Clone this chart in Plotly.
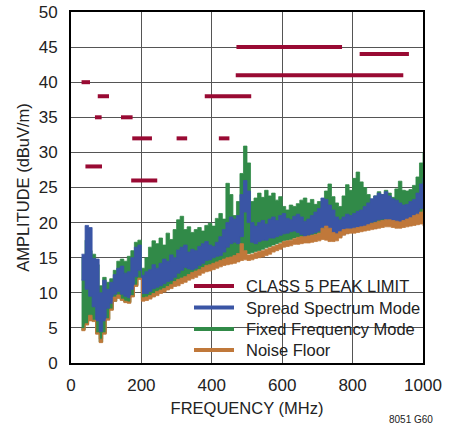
import plotly.graph_objects as go

# ---------------- data ----------------
freq = [30, 40, 50, 60, 70, 80, 90, 100, 110, 120, 130, 140, 150, 160, 170, 180, 190, 200,
        210, 220, 230, 240, 250, 260, 270, 280, 290, 300, 310, 320, 330, 340, 350, 360, 370,
        380, 390, 400, 410, 420, 430, 440, 450, 460, 470, 480, 490, 500, 510, 520, 530, 540,
        550, 560, 570, 580, 590, 600, 610, 620, 630, 640, 650, 660, 670, 680, 690, 700, 710,
        720, 730, 740, 750, 760, 770, 780, 790, 800, 810, 820, 830, 840, 850, 860, 870, 880,
        890, 900, 910, 920, 930, 940, 950, 960, 970, 980, 990, 1000]

fixed_hi = [15.0, 17.5, 16.0, 15.5, 14.0, 11.0, 12.2, 11.5, 12.0, 13.2, 14.5, 14.8, 14.5, 15.2, 16.0, 17.2, 17.5, 13.5,
            15.0, 16.5, 17.4, 17.0, 17.8, 16.8, 18.5, 17.6, 19.0, 20.4, 20.9, 19.0, 19.4, 18.6, 19.0, 19.3, 18.8,
            19.6, 19.9, 19.5, 20.6, 21.3, 20.5, 25.6, 24.0, 21.0, 23.0, 27.0, 30.9, 28.5, 23.0, 23.5, 24.2, 23.6,
            24.6, 23.8, 24.2, 23.2, 23.7, 22.3, 21.8, 22.5, 22.3, 22.7, 23.2, 23.5, 22.8, 23.3, 22.6, 23.0, 22.8,
            24.5, 25.5, 23.7, 22.8, 22.3, 23.8, 25.4, 24.6, 26.3, 27.2, 25.8, 25.0, 24.0, 23.3, 23.8, 24.4, 24.0,
            24.6, 24.2, 23.6, 24.8, 25.9, 24.6, 24.5, 24.7, 25.3, 26.5, 28.5, 30.0]
fixed_lo = [4.7, 5.5, 6.5, 6.0, 4.2, 3.0, 4.2, 6.2, 7.6, 8.8, 9.4, 9.0, 8.7, 8.6, 9.5, 11.0, 12.0, 9.0,
            9.1, 9.3, 9.6, 9.9, 10.1, 10.3, 10.6, 10.9, 11.2, 11.5, 11.8, 12.0, 12.3, 12.6, 12.8, 13.0, 13.3,
            13.6, 13.8, 14.0, 14.3, 14.5, 14.7, 14.9, 15.0, 15.2, 15.4, 16.0, 15.8, 15.6, 15.7, 15.9, 16.0, 16.2,
            16.4, 16.6, 16.8, 17.0, 17.2, 17.4, 17.5, 17.6, 17.8, 17.9, 18.0, 18.1, 18.1, 18.2, 18.3, 18.5, 18.8,
            19.0, 18.8, 18.6, 18.5, 18.7, 19.0, 19.1, 19.2, 19.2, 19.3, 19.4, 19.5, 19.7, 19.8, 19.9, 20.0, 20.1,
            20.2, 20.2, 20.1, 20.0, 20.0, 20.1, 20.3, 20.5, 20.8, 21.0, 21.2, 21.5]

spread_hi = [15.5, 19.6, 19.3, 14.9, 14.8, 10.0, 11.8, 10.5, 11.5, 12.6, 13.5, 13.8, 12.8, 13.0, 15.0, 16.5, 16.8, 12.5,
             13.0, 13.3, 14.0, 13.5, 14.2, 14.8, 14.5, 15.4, 15.0, 16.1, 16.5, 16.8, 15.8, 16.2, 16.0, 16.6, 17.0,
             17.3, 16.8, 16.6, 17.2, 18.0, 19.0, 20.0, 20.8, 20.5, 21.0, 24.0, 26.0, 24.5, 20.0, 19.5, 20.0, 20.3,
             19.8, 20.5, 20.8, 20.3, 21.0, 21.3, 20.6, 20.4, 20.9, 21.2, 20.8, 20.2, 20.5, 21.0, 21.5, 22.0, 23.5,
             23.3, 22.5, 21.8, 20.8, 20.4, 20.8, 21.2, 21.0, 21.3, 21.6, 21.8, 22.3, 22.8, 23.4, 23.8, 24.2, 24.0,
             24.4, 23.8, 23.4, 23.2, 22.8, 22.5, 22.6, 23.0, 23.3, 24.2, 25.5, 26.4]
spread_lo = [11.8, 10.5, 9.5, 8.0, 6.0, 4.5, 6.0, 7.8, 8.5, 9.8, 10.2, 9.8, 9.5, 9.3, 10.5, 12.3, 13.2, 9.9,
             9.9, 10.2, 10.6, 10.8, 11.0, 11.3, 11.6, 11.8, 12.2, 12.8, 13.2, 13.6, 13.4, 13.3, 13.5, 13.9, 14.2,
             14.6, 14.7, 15.0, 15.2, 15.3, 15.8, 16.5, 17.0, 17.2, 17.0, 18.0, 21.5, 20.0, 17.2, 17.0, 17.3, 17.5,
             17.5, 17.8, 17.8, 18.0, 18.2, 18.4, 18.5, 18.7, 18.8, 18.6, 18.3, 18.0, 18.2, 18.4, 18.6, 18.8, 19.3,
             19.5, 19.2, 18.5, 18.2, 18.0, 18.3, 18.5, 18.7, 18.8, 18.9, 19.0, 19.3, 19.6, 20.0, 20.2, 20.4, 20.5,
             20.4, 20.2, 20.0, 19.9, 19.8, 19.9, 20.0, 20.3, 20.6, 21.2, 22.0, 22.3]

noise_hi = [4.9, 5.6, 6.8, 6.1, 4.3, 3.4, 4.3, 6.3, 7.7, 9.4, 9.7, 9.1, 8.8, 8.7, 9.6, 11.1, 12.1, 9.3,
            9.4, 9.6, 9.9, 10.2, 10.4, 10.6, 10.9, 11.2, 11.6, 11.9, 12.1, 12.3, 12.6, 12.9, 13.1, 13.3, 13.6,
            13.9, 14.0, 14.2, 14.4, 14.6, 14.8, 15.0, 15.1, 15.3, 15.6, 17.0, 16.0, 15.4, 15.5, 15.7, 15.9, 16.0,
            16.2, 16.4, 16.6, 16.8, 17.0, 17.3, 17.4, 17.5, 17.7, 17.9, 18.0, 18.0, 18.1, 18.2, 18.3, 18.5, 19.2,
            19.5, 19.2, 18.6, 18.4, 18.7, 19.0, 19.1, 19.1, 19.2, 19.3, 19.4, 19.5, 19.7, 19.9, 20.0, 20.2, 20.3,
            20.4, 20.4, 20.3, 20.2, 20.1, 20.3, 20.5, 20.7, 21.0, 21.2, 21.5, 21.9]
noise_lo = [4.6, 5.4, 6.0, 5.9, 4.1, 2.9, 4.1, 6.1, 7.5, 8.8, 9.2, 8.9, 8.6, 8.5, 9.4, 10.9, 11.9, 8.8,
            8.9, 9.1, 9.4, 9.6, 9.9, 10.1, 10.4, 10.6, 10.9, 11.0, 11.3, 11.5, 11.8, 12.0, 12.2, 12.5, 12.8,
            13.0, 13.1, 13.3, 13.5, 13.7, 13.9, 14.0, 14.1, 14.2, 14.4, 14.6, 14.7, 14.6, 14.7, 14.9, 15.0, 15.1,
            15.3, 15.5, 15.8, 16.0, 16.2, 16.5, 16.6, 16.7, 16.9, 16.9, 17.0, 17.1, 17.1, 17.2, 17.3, 17.4, 17.6,
            17.5, 17.3, 17.3, 17.4, 17.8, 18.2, 18.4, 18.5, 18.5, 18.6, 18.7, 18.8, 18.9, 19.0, 19.1, 19.2, 19.3,
            19.4, 19.4, 19.3, 19.2, 19.2, 19.3, 19.4, 19.5, 19.6, 19.7, 19.8, 19.5]

# CLASS 5 peak limit segments: (start MHz, stop MHz, level dBuV/m)
limit_start = [30, 68, 76, 41, 142, 174, 171, 300, 420, 380, 468, 470, 820]
limit_stop = [54, 87, 108, 88, 175, 230, 245, 330, 450, 512, 944, 770, 960]
limit_level = [40, 35, 38, 28, 35, 32, 26, 32, 32, 38, 41, 45, 44]

legend_names = ["CLASS 5 PEAK LIMIT", "Spread Spectrum Mode", "Fixed Frequency Mode", "Noise Floor"]
x_ticks = [0, 200, 400, 600, 800, 1000]
y_ticks = [0, 5, 10, 15, 20, 25, 30, 35, 40, 45, 50]

# ---------------- styling ----------------
C_LIMIT = "#990a33"
C_SPREAD = "#3a55a5"
C_FIXED = "#318a48"
C_NOISE = "#c0783a"
FONT = "Liberation Sans, Arial, sans-serif"
TXT = "#222222"

fig = go.Figure()


def band(lo, hi, color):
    fig.add_trace(go.Scatter(x=freq, y=lo, mode="lines", line=dict(color=color, width=0.8, shape="hv"),
                             showlegend=False, hoverinfo="skip"))
    fig.add_trace(go.Scatter(x=freq, y=hi, mode="lines", line=dict(color=color, width=0.8, shape="hv"),
                             fill="tonexty", fillcolor=color, showlegend=False, hoverinfo="skip"))


band(fixed_lo, fixed_hi, C_FIXED)
band(spread_lo, spread_hi, C_SPREAD)
band(noise_lo, noise_hi, C_NOISE)

lx, ly = [], []
for a, b, v in zip(limit_start, limit_stop, limit_level):
    lx += [a, b, None]
    ly += [v, v, None]
fig.add_trace(go.Scatter(x=lx, y=ly, mode="lines", line=dict(color=C_LIMIT, width=4),
                         showlegend=False, hoverinfo="skip"))

# plot area geometry (pixels) for the hand-made legend
L, R, T, B = 71, 423, 12, 363
W, H = R - L, B - T


def px(x):
    return (x - L) / W


def py(y):
    return (B - y) / H


shapes = [dict(type="rect", xref="paper", yref="paper", x0=px(186), x1=1, y0=0, y1=py(269),
               fillcolor="white", line=dict(width=0), layer="between")]
annotations = []
rows = [286, 307.5, 329, 350]
colors = [C_LIMIT, C_SPREAD, C_FIXED, C_NOISE]
for name, yy, c in zip(legend_names, rows, colors):
    shapes.append(dict(type="line", xref="paper", yref="paper", x0=px(194), x1=px(234),
                       y0=py(yy), y1=py(yy), line=dict(color=c, width=4), layer="above"))
    annotations.append(dict(xref="paper", yref="paper", x=px(244), y=py(yy), text=name, showarrow=False,
                            xanchor="left", yanchor="middle", font=dict(family=FONT, size=16.5, color=TXT)))

annotations.append(dict(xref="paper", yref="paper", x=px(435), y=py(419), text="8051 G60", showarrow=False,
                        xanchor="right", yanchor="middle", font=dict(family=FONT, size=10, color=TXT)))

axis_common = dict(showline=True, mirror=True, linecolor="black", linewidth=2, showgrid=True,
                   gridcolor="#555555", gridwidth=1, zeroline=False, ticks="", automargin=False,
                   tickfont=dict(family=FONT, size=17, color=TXT))

fig.update_layout(
    width=455, height=432,
    margin=dict(l=L, r=455 - R, t=T, b=432 - B),
    paper_bgcolor="white", plot_bgcolor="white",
    showlegend=False,
    shapes=shapes, annotations=annotations,
    xaxis=dict(range=[0, 1000], tickvals=x_ticks, ticklabelstandoff=6,
               title=dict(text="FREQUENCY (MHz)", font=dict(family=FONT, size=16.5, color=TXT), standoff=8),
               **axis_common),
    yaxis=dict(range=[0, 50], tickvals=y_ticks, ticklabelstandoff=8,
               title=dict(text="AMPLITUDE (dBuV/m)", font=dict(family=FONT, size=16.5, color=TXT), standoff=5),
               **axis_common),
)

fig.write_html("out.html", config={"displayModeBar": False},
               post_script="document.body.style.margin='0';document.body.style.overflow='hidden';")
